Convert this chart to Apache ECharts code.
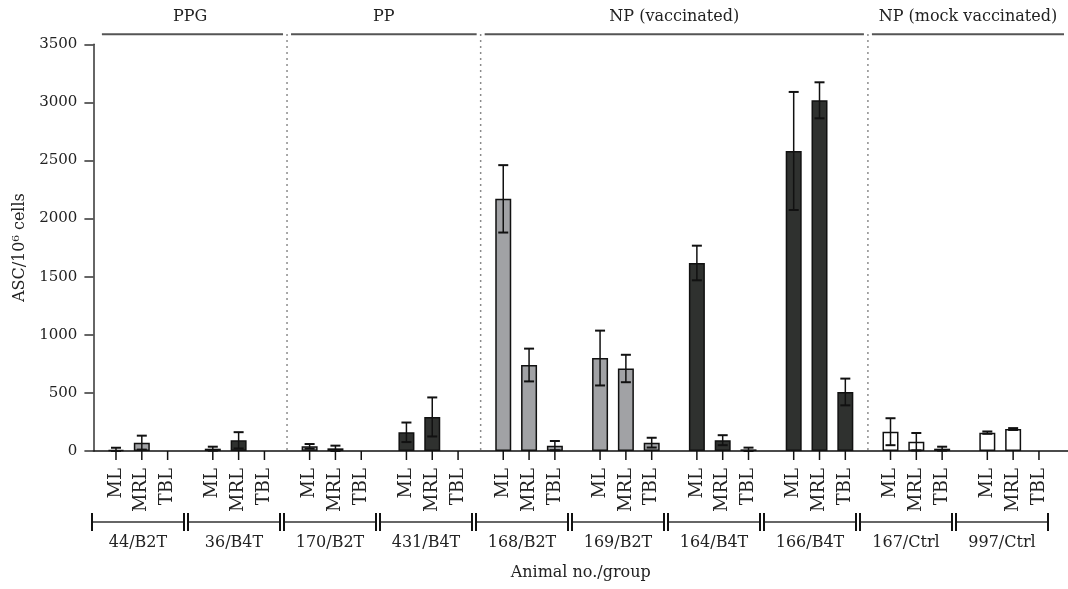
<!DOCTYPE html>
<html>
<head>
<meta charset="utf-8">
<script src="https://cdn.jsdelivr.net/npm/echarts@6/dist/echarts.min.js"></script>
<style>html,body{margin:0;padding:0;background:#fff}#c{width:1068px;height:589px}</style>
</head>
<body>
<div id="c"></div>
<script>
// ---- data ----
const groups = ['44/B2T','36/B4T','170/B2T','431/B4T','168/B2T','169/B2T','164/B4T','166/B4T','167/Ctrl','997/Ctrl'];
const groupTypes = ['B2T','B4T','B2T','B4T','B2T','B2T','B4T','B4T','Ctrl','Ctrl'];
const tissues = ['ML','MRL','TBL'];
const mlMean  = [8, 20, 40, 161, 2170, 800, 1618, 2582, 166, 158];
const mlErr   = [20, 17, 20, 84, 290, 236, 149, 508, 116, 10];
const mrlMean = [72, 92, 23, 293, 740, 710, 93, 3018, 80, 189];
const mrlErr  = [60, 70, 23, 168, 141, 118, 43, 155, 75, 8];
const tblMean = [null, null, null, null, 46, 72, 14, 508, 20, null];
const tblErr  = [null, null, null, null, 40, 42, 15, 115, 17, null];
const sections = ['PPG','PP','NP (vaccinated)','NP (mock vaccinated)'];
const sectionFirstGroup = [0, 2, 4, 8];
const yMin = 0, yMax = 3500, yStep = 500;

// ---- layout helpers (slots on the category axis) ----
const LEAD = 3, PER = 15, STEP = 4, TRAIL = 4;
const slotOf = (g, t) => LEAD + g * PER + t * STEP;
const N = slotOf(groups.length - 1, 2) + 1 + TRAIL;
const cats = new Array(N).fill('');
groups.forEach((g, gi) => tissues.forEach((t, ti) => { cats[slotOf(gi, ti)] = t; }));

const typeColor = { B2T: '#a1a2a5', B4T: '#2f312f', Ctrl: '#ffffff' };
const means = [mlMean, mrlMean, tblMean];
const errs = [mlErr, mrlErr, tblErr];
const barData = new Array(N).fill('-');
const errData = [];
const tickData = [];
groups.forEach((g, gi) => tissues.forEach((t, ti) => {
  tickData.push([slotOf(gi, ti), yMin]);
  const m = means[ti][gi];
  if (m == null) return;
  barData[slotOf(gi, ti)] = { value: m, itemStyle: { color: typeColor[groupTypes[gi]] } };
  const e = errs[ti][gi];
  errData.push([slotOf(gi, ti), Math.max(0, m - e), m + e]);
}));

const FONT = 'DejaVu Serif';
const TXT = '#222';

const chart = echarts.init(document.getElementById('c'), null, { renderer: 'canvas' });
chart.setOption({
  animation: false,
  backgroundColor: '#fff',
  grid: [
    { left: 93.4, top: 44.3, width: 976.5, height: 406.7 },
    { left: 90, top: 512, width: 960, height: 20 }
  ],
  xAxis: [
    {
      type: 'category', gridIndex: 0, data: cats, boundaryGap: true,
      axisLine: { lineStyle: { color: '#111', width: 1.5 } },
      axisTick: { show: false },
      axisLabel: { interval: 0, rotate: 90, margin: 17, fontFamily: FONT, fontSize: 18, color: TXT },
      name: 'Animal no./group', nameLocation: 'middle', nameGap: 114,
      nameTextStyle: { fontFamily: FONT, fontSize: 16, color: TXT }
    },
    {
      type: 'category', gridIndex: 1, data: groups, boundaryGap: true,
      axisLine: { show: false }, axisTick: { show: false },
      axisLabel: { interval: 0, margin: 3, fontFamily: FONT, fontSize: 16, color: TXT }
    }
  ],
  yAxis: [
    {
      type: 'value', gridIndex: 0, min: yMin, max: yMax, interval: yStep,
      splitLine: { show: false },
      axisLine: { show: true, lineStyle: { color: '#333', width: 1.5 } },
      axisTick: { show: true, length: 9, lineStyle: { color: '#333', width: 1.5 } },
      axisLabel: { margin: 16, fontFamily: FONT, fontSize: 15, color: TXT, formatter: v => String(v) },
      name: 'ASC/10\u2076 cells', nameLocation: 'middle', nameGap: 60, nameRotate: 90,
      nameTextStyle: { fontFamily: FONT, fontSize: 16, color: TXT }
    },
    { type: 'value', gridIndex: 1, min: 0, max: 1, show: false }
  ],
  series: [
    {
      type: 'bar', xAxisIndex: 0, yAxisIndex: 0, data: barData, barWidth: 16,
      itemStyle: { borderColor: '#111', borderWidth: 1.5 }, z: 2
    },
    {
      // tick marks under each bar position
      type: 'custom', xAxisIndex: 0, yAxisIndex: 0, data: tickData, z: 3,
      encode: { x: 0, y: 1 },
      renderItem: (params, api) => {
        const p = api.coord([api.value(0), api.value(1)]);
        return { type: 'line', shape: { x1: p[0], y1: p[1], x2: p[0], y2: p[1] + 9 },
          style: { stroke: '#111', lineWidth: 1.5 } };
      }
    },
    {
      type: 'custom', xAxisIndex: 0, yAxisIndex: 0, data: errData, z: 5,
      encode: { x: 0, y: [1, 2] },
      renderItem: (params, api) => {
        const x = api.value(0);
        const pLo = api.coord([x, api.value(1)]);
        const pHi = api.coord([x, api.value(2)]);
        const hw = 5;
        const st = { stroke: '#111', lineWidth: 1.5 };
        const cap = { stroke: '#111', lineWidth: 2 };
        return { type: 'group', children: [
          { type: 'line', shape: { x1: pHi[0], y1: pHi[1], x2: pLo[0], y2: pLo[1] }, style: st },
          { type: 'line', shape: { x1: pHi[0] - hw, y1: pHi[1], x2: pHi[0] + hw, y2: pHi[1] }, style: cap },
          { type: 'line', shape: { x1: pLo[0] - hw, y1: pLo[1], x2: pLo[0] + hw, y2: pLo[1] }, style: cap }
        ] };
      }
    },
    {
      type: 'custom', xAxisIndex: 0, yAxisIndex: 0, z: 1,
      data: sections.map((s, i) => [slotOf(sectionFirstGroup[i], 0), yMax]),
      encode: { x: 0, y: 1 },
      renderItem: (params, api) => {
        const s = params.dataIndex;
        const gStart = sectionFirstGroup[s];
        const gEnd = s + 1 < sections.length ? sectionFirstGroup[s + 1] : groups.length;
        const yTop = api.coord([0, yMax])[1];
        const yBase = api.coord([0, yMin])[1];
        const half = api.size([1, 0])[0] / 2;
        const boundary = g => (api.coord([slotOf(g - 1, 2), 0])[0] + api.coord([slotOf(g, 0), 0])[0]) / 2;
        const left = gStart === 0 ? api.coord([0, 0])[0] - half : boundary(gStart);
        const right = gEnd === groups.length ? api.coord([N - 1, 0])[0] + half : boundary(gEnd);
        const lineY = yTop - 10;
        const children = [
          { type: 'line', shape: { x1: left + (s === 0 ? 8.5 : 4), y1: lineY, x2: right - 4, y2: lineY },
            style: { stroke: '#555', lineWidth: 2 } },
          { type: 'text', style: { text: sections[s], x: (left + right) / 2, y: yTop - 27,
            align: 'center', verticalAlign: 'middle', font: '16px "' + FONT + '"', fill: TXT } }
        ];
        if (s > 0) {
          children.push({ type: 'line', shape: { x1: left, y1: lineY, x2: left, y2: yBase },
            style: { stroke: '#666', lineWidth: 1.5, lineDash: [1.5, 4.5] } });
        }
        return { type: 'group', children };
      }
    },
    {
      type: 'custom', xAxisIndex: 1, yAxisIndex: 1,
      data: groups.map((g, i) => [i, 0.5]),
      encode: { x: 0, y: 1 },
      renderItem: (params, api) => {
        const c = api.coord([api.value(0), api.value(1)]);
        const w = api.size([1, 0])[0];
        const x1 = c[0] - w / 2 + 2, x2 = c[0] + w / 2 - 2;
        const h = 9;
        return { type: 'group', children: [
          { type: 'line', shape: { x1, y1: c[1], x2, y2: c[1] }, style: { stroke: '#333', lineWidth: 1.3 } },
          { type: 'line', shape: { x1, y1: c[1] - h, x2: x1, y2: c[1] + h }, style: { stroke: '#111', lineWidth: 2 } },
          { type: 'line', shape: { x1: x2, y1: c[1] - h, x2, y2: c[1] + h }, style: { stroke: '#111', lineWidth: 2 } }
        ] };
      }
    }
  ]
});
</script>
</body>
</html>
